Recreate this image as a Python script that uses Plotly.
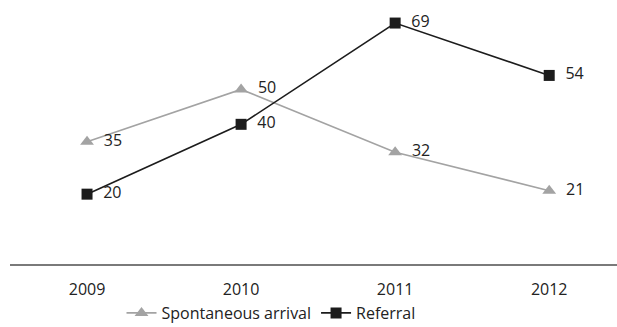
import plotly.graph_objects as go

years = ["2009", "2010", "2011", "2012"]
spontaneous = [35, 50, 32, 21]
referral = [20, 40, 69, 54]

font_family = "Open Sans, DejaVu Sans, sans-serif"
text_color = "#222222"

fig = go.Figure()

fig.add_trace(go.Scatter(
    x=years, y=spontaneous, name="Spontaneous arrival",
    mode="lines+markers+text",
    line=dict(color="#a3a3a3", width=1.6),
    marker=dict(symbol="triangle-up", size=12, color="#a3a3a3"),
    text=["  " + str(v) for v in spontaneous],
    textposition="middle right",
    textfont=dict(family=font_family, size=16, color=text_color),
    cliponaxis=False,
))

fig.add_trace(go.Scatter(
    x=years, y=referral, name="Referral",
    mode="lines+markers+text",
    line=dict(color="#1c1c1c", width=1.6),
    marker=dict(symbol="square", size=11, color="#1c1c1c"),
    text=["  " + str(v) for v in referral],
    textposition="middle right",
    textfont=dict(family=font_family, size=16, color=text_color),
    cliponaxis=False,
))

fig.update_layout(
    width=617, height=327,
    margin=dict(l=10, r=0, t=0, b=63, autoexpand=False),
    paper_bgcolor="white", plot_bgcolor="white",
    font=dict(family=font_family, size=16, color=text_color),
    showlegend=True,
    legend=dict(
        orientation="h", x=0.43, xanchor="center", y=-0.25, yanchor="bottom",
        font=dict(family=font_family, size=16, color=text_color),
        itemwidth=30, tracegroupgap=0,
    ),
    xaxis=dict(
        type="category", range=[-0.5, 3.44],
        showgrid=False, zeroline=False,
        showline=True, linecolor="#7a7a7a", linewidth=2,
        ticks="", ticklabelstandoff=10,
        tickfont=dict(family=font_family, size=16, color=text_color),
    ),
    yaxis=dict(
        range=[0, 75.6], showgrid=False, zeroline=False,
        showline=False, showticklabels=False, ticks="",
    ),
)

fig.write_html("out.html")
